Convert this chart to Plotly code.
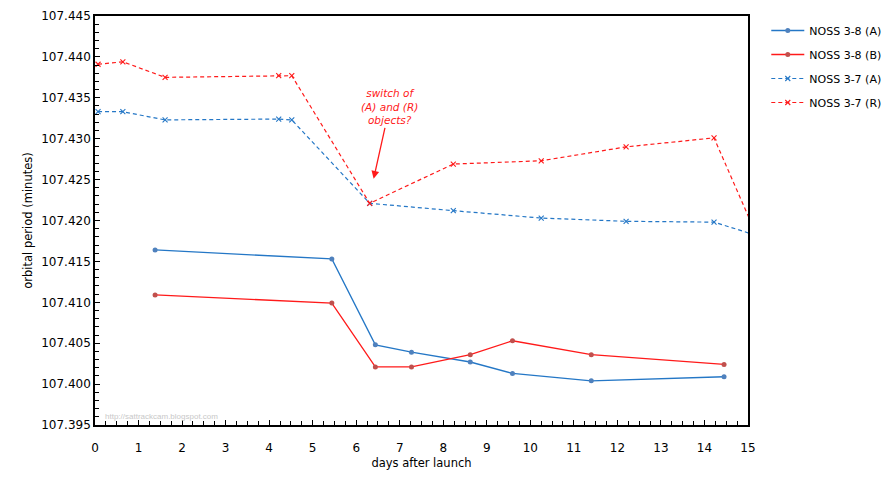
import plotly.graph_objects as go

# ---- data ----
days_38 = [1.38, 5.44, 6.44, 7.27, 8.62, 9.59, 11.40, 14.45]
period_38A = [107.4164, 107.4153, 107.4048, 107.4039, 107.4027, 107.4013, 107.4004, 107.4009]
period_38B = [107.4109, 107.4099, 107.4021, 107.4021, 107.4036, 107.4053, 107.4036, 107.4024]

days_37 = [0.07, 0.64, 1.61, 4.22, 4.52, 6.31, 8.23, 10.25, 12.20, 14.22, 15.6]
period_37A = [107.4333, 107.4333, 107.4323, 107.4324, 107.4323, 107.4221, 107.4212,
              107.4203, 107.4199, 107.4198, 107.4175]
period_37R = [107.4391, 107.4394, 107.4375, 107.4377, 107.4377, 107.4221, 107.4269,
              107.4273, 107.4290, 107.4301, 107.4133]

names = ["NOSS 3-8 (A)", "NOSS 3-8 (B)", "NOSS 3-7 (A)", "NOSS 3-7 (R)"]
x_ticks = list(range(0, 16))
y_ticks = [107.395, 107.400, 107.405, 107.410, 107.415, 107.420,
           107.425, 107.430, 107.435, 107.440, 107.445]

FONT = "DejaVu Sans"
BLUE = "#2477c6"
RED = "#ff1a1a"

fig = go.Figure()
fig.add_trace(go.Scatter(x=days_38, y=period_38A, name=names[0], mode="lines+markers",
                         line=dict(color=BLUE, width=1.3),
                         marker=dict(color="#4f81bd", size=5), legendgroup="a"))
fig.add_trace(go.Scatter(x=days_38, y=period_38B, name=names[1], mode="lines+markers",
                         line=dict(color=RED, width=1.3),
                         marker=dict(color="#c0504d", size=5), legendgroup="b"))
fig.add_trace(go.Scatter(x=days_37, y=period_37A, name=names[2], mode="lines+markers",
                         line=dict(color=BLUE, width=1.2, dash="4px,3px"),
                         marker=dict(color=BLUE, size=5, symbol="x-thin",
                                     line=dict(color=BLUE, width=1.1)), legendgroup="c"))
fig.add_trace(go.Scatter(x=days_37, y=period_37R, name=names[3], mode="lines+markers",
                         line=dict(color=RED, width=1.2, dash="4px,3px"),
                         marker=dict(color=RED, size=5, symbol="x-thin",
                                     line=dict(color=RED, width=1.1)), legendgroup="d"))

fig.add_annotation(x=6.40, y=107.4251, xref="x", yref="y",
                   text="<i>switch of<br>(A) and (R)<br>objects?</i>",
                   showarrow=True, ax=16, ay=-72, arrowcolor=RED, arrowwidth=1.3,
                   arrowhead=2, arrowsize=1.2,
                   font=dict(family=FONT, size=10.5, color=RED), align="center")
fig.add_annotation(x=0.013, y=0.006, xref="paper", yref="paper", xanchor="left",
                   yanchor="bottom", text="http://sattrackcam.blogspot.com",
                   showarrow=False,
                   font=dict(family="Liberation Sans", size=8, color="#c8c8c8"))

axis_common = dict(showline=True, linecolor="black", linewidth=1.5, mirror=True,
                   showgrid=False, zeroline=False, ticks="inside", ticklen=5,
                   tickcolor="black", automargin=False,
                   tickfont=dict(family=FONT, size=12, color="black"))

fig.update_xaxes(range=[0, 15], tickvals=x_ticks, ticktext=[str(v) for v in x_ticks],
                 ticklabelstandoff=11,
                 title=dict(text="days after launch", font=dict(family=FONT, size=11.5),
                            standoff=5),
                 minor=dict(dtick=0.25, ticks="inside", ticklen=4, tickcolor="black"),
                 **axis_common)
fig.update_yaxes(range=[107.395, 107.445], tickvals=y_ticks,
                 ticktext=[f"{v:.3f}" for v in y_ticks],
                 title=dict(text="orbital period (minutes)", font=dict(family=FONT, size=11.5),
                            standoff=6),
                 minor=dict(dtick=0.001, tick0=107.395, ticks="inside", ticklen=4,
                            tickcolor="black"),
                 **axis_common)

fig.update_layout(width=895, height=486, margin=dict(l=87, r=155, t=8, b=69),
                  paper_bgcolor="white", plot_bgcolor="white",
                  font=dict(family=FONT, size=11, color="black"),
                  legend=dict(x=1.028, y=1.0, xanchor="left", yanchor="top",
                              font=dict(family=FONT, size=11), tracegroupgap=5,
                              itemwidth=33, bgcolor="rgba(0,0,0,0)"))

fig.write_html("out.html")
